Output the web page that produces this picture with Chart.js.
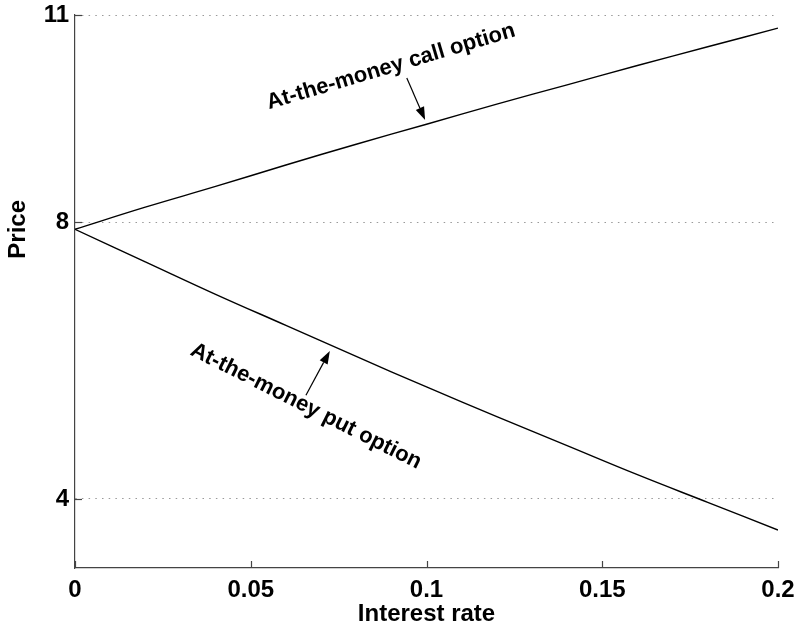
<!DOCTYPE html>
<html>
<head>
<meta charset="utf-8">
<script src="https://cdn.jsdelivr.net/npm/chart.js@4.4.0/dist/chart.umd.min.js"></script>
<style>
  html, body { margin: 0; padding: 0; background: #fff; }
</style>
</head>
<body>
<canvas id="optionChart" width="798" height="633"></canvas>
<script>
// interest rates and read-off option prices
var rates = [0, 0.02, 0.04, 0.06, 0.08, 0.10, 0.12, 0.14, 0.16, 0.18, 0.20];
var callPrices = [7.90, 8.22, 8.52, 8.83, 9.13, 9.42, 9.71, 9.99, 10.27, 10.54, 10.81];
var putPrices = [7.90, 7.43, 6.96, 6.51, 6.06, 5.62, 5.19, 4.77, 4.35, 3.95, 3.55];

var xTicks = [0, 0.05, 0.1, 0.15, 0.2];
var xTickLabels = ['0', '0.05', '0.1', '0.15', '0.2'];
var yTicks = [4, 8, 11];

// annotation texts: [x, y] in data units
var callLabel = { text: 'At-the-money call option', at: [0.0899, 10.25], angle: -16.5 };
var putLabel = { text: 'At-the-money put option', at: [0.0657, 5.34], angle: 26.7 };
var callArrow = { from: [0.0944, 10.09], to: [0.0996, 9.48] };
var putArrow = { from: [0.0657, 5.50], to: [0.0725, 6.14] };

var FONT = 'Liberation Sans, Arial, Helvetica, sans-serif';

function toPoints(ys) {
    return rates.map(function (r, i) { return { x: r, y: ys[i] }; });
}

function drawArrow(ctx, x1, y1, x2, y2) {
    var ang = Math.atan2(y2 - y1, x2 - x1);
    var len = 13, half = 4.5;
    ctx.beginPath();
    ctx.moveTo(x1, y1);
    ctx.lineTo(x2 - len * Math.cos(ang), y2 - len * Math.sin(ang));
    ctx.stroke();
    ctx.beginPath();
    ctx.moveTo(x2, y2);
    ctx.lineTo(x2 - len * Math.cos(ang) + half * Math.sin(ang), y2 - len * Math.sin(ang) - half * Math.cos(ang));
    ctx.lineTo(x2 - len * Math.cos(ang) - half * Math.sin(ang), y2 - len * Math.sin(ang) + half * Math.cos(ang));
    ctx.closePath();
    ctx.fill();
}

var extras = {
    id: 'extras',
    afterDraw: function (chart) {
        var ctx = chart.ctx;
        var xs = chart.scales.x, ys = chart.scales.y;
        var area = chart.chartArea;
        ctx.save();
        // inward tick marks
        ctx.strokeStyle = '#444';
        ctx.lineWidth = 1.2;
        xTicks.forEach(function (v) {
            var px = Math.round(xs.getPixelForValue(v)) + 0.5;
            ctx.beginPath();
            ctx.moveTo(px, area.bottom);
            ctx.lineTo(px, area.bottom - 7);
            ctx.stroke();
        });
        yTicks.forEach(function (v) {
            var py = Math.round(ys.getPixelForValue(v)) + 0.5;
            ctx.beginPath();
            ctx.moveTo(area.left, py);
            ctx.lineTo(area.left + 7, py);
            ctx.stroke();
        });
        // y axis title, sits a little above the middle like the original
        ctx.fillStyle = '#000';
        ctx.save();
        ctx.font = 'bold 24px ' + FONT;
        ctx.textAlign = 'center';
        ctx.textBaseline = 'middle';
        ctx.translate(18, ys.getPixelForValue(7.9));
        ctx.rotate(-Math.PI / 2);
        ctx.fillText('Price', 0, 0);
        ctx.restore();
        // labels
        ctx.font = 'bold 22px ' + FONT;
        ctx.textAlign = 'center';
        ctx.textBaseline = 'middle';
        [callLabel, putLabel].forEach(function (l) {
            ctx.save();
            ctx.translate(xs.getPixelForValue(l.at[0]), ys.getPixelForValue(l.at[1]));
            ctx.rotate(l.angle * Math.PI / 180);
            ctx.fillText(l.text, 0, 0);
            ctx.restore();
        });
        // arrows
        ctx.strokeStyle = '#000';
        ctx.lineWidth = 1.2;
        [callArrow, putArrow].forEach(function (a) {
            drawArrow(ctx,
                xs.getPixelForValue(a.from[0]), ys.getPixelForValue(a.from[1]),
                xs.getPixelForValue(a.to[0]), ys.getPixelForValue(a.to[1]));
        });
        ctx.restore();
    }
};

var ctx = document.getElementById('optionChart').getContext('2d');

var optionChart = new Chart(ctx, {
    type: 'line',
    data: {
        datasets: [{
            label: 'Call',
            data: toPoints(callPrices),
            borderColor: '#000',
            borderWidth: 1.4,
            pointRadius: 0,
            tension: 0.4,
            fill: false
        }, {
            label: 'Put',
            data: toPoints(putPrices),
            borderColor: '#000',
            borderWidth: 1.4,
            pointRadius: 0,
            tension: 0.4,
            fill: false
        }]
    },
    options: {
        responsive: false,
        animation: false,
        devicePixelRatio: 1,
        layout: { padding: { left: 0, right: 20, top: 15, bottom: 0 } },
        plugins: {
            legend: { display: false },
            tooltip: { enabled: false }
        },
        scales: {
            x: {
                type: 'linear',
                min: 0,
                max: 0.2,
                afterBuildTicks: function (scale) {
                    scale.ticks = xTicks.map(function (v) { return { value: v }; });
                },
                afterFit: function (scale) {
                    scale.height = 65;
                    scale.paddingLeft = 0;
                    scale.paddingRight = 0;
                },
                grid: { display: false, drawTicks: false },
                border: { display: true, color: '#444', width: 1.2 },
                ticks: {
                    padding: 8,
                    color: '#000',
                    font: { family: FONT, size: 24, weight: 'bold' },
                    callback: function (v) {
                        var i = xTicks.indexOf(v);
                        return i >= 0 ? xTickLabels[i] : '';
                    }
                },
                title: {
                    display: true,
                    text: 'Interest rate',
                    color: '#000',
                    font: { family: FONT, size: 24, weight: 'bold' },
                    padding: { top: 0, bottom: 4 }
                }
            },
            y: {
                min: 3,
                max: 11,
                afterBuildTicks: function (scale) {
                    scale.ticks = yTicks.map(function (v) { return { value: v }; });
                },
                afterFit: function (scale) {
                    scale.width = 75;
                    scale.paddingTop = 0;
                    scale.paddingBottom = 0;
                },
                grid: { display: true, drawTicks: false, color: '#999', lineWidth: 1 },
                border: { display: true, color: '#444', width: 1.2, dash: [1.5, 5.2] },
                ticks: {
                    padding: 6,
                    color: '#000',
                    font: { family: FONT, size: 24, weight: 'bold' },
                    callback: function (v) { return String(v); }
                }
            }
        }
    },
    plugins: [extras]
});
</script>
</body>
</html>
